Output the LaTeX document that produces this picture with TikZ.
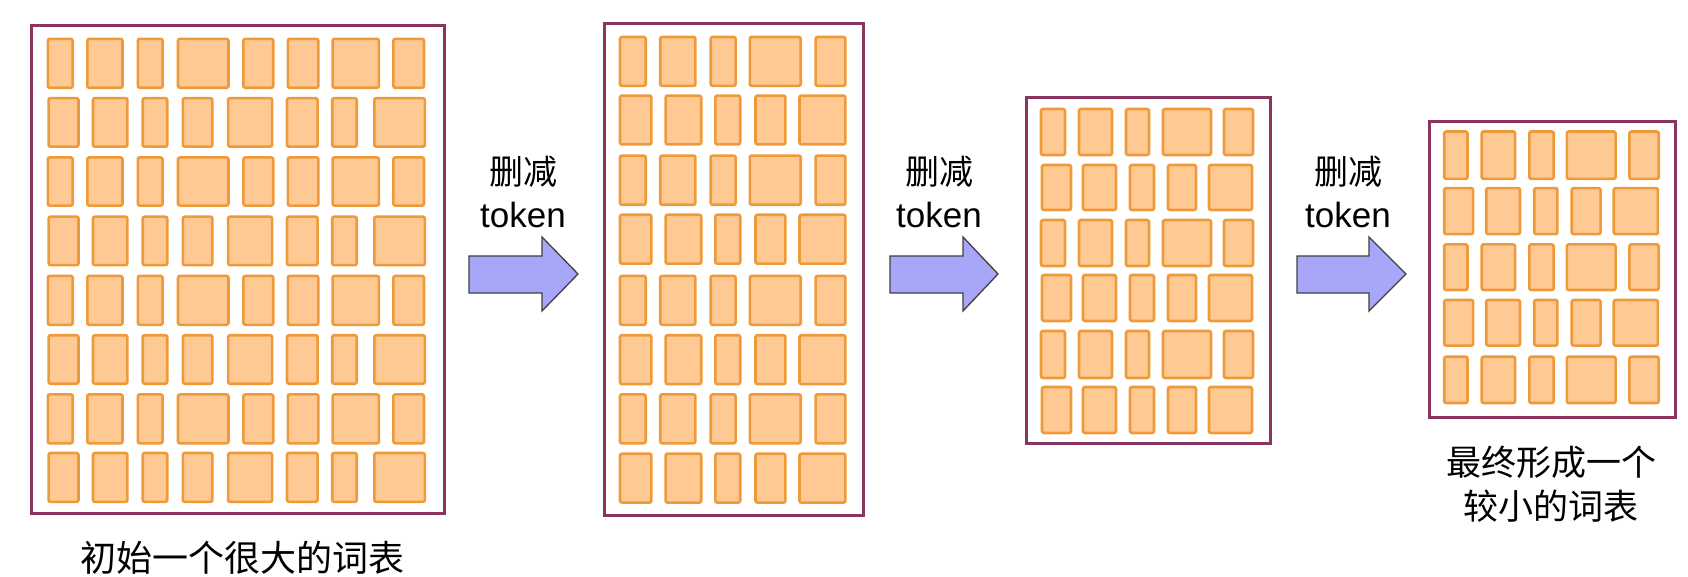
\documentclass[tikz,border=0pt]{standalone}
\usepackage{fontspec}
\setmainfont{Liberation Sans}
\newfontfamily\cjk{Noto Sans CJK SC}
\definecolor{frm}{HTML}{8A3560}
\definecolor{tokfill}{HTML}{FFC994}
\definecolor{tokdraw}{HTML}{EE9A3A}
\definecolor{arrfill}{HTML}{A8A6F8}
\begin{document}
\begin{tikzpicture}[x=1pt,y=-1pt,
  frame/.style={draw=frm,line width=3pt},
  tok/.style={fill=tokfill,draw=tokdraw,line width=2.6pt,rounded corners=2pt},
  arr/.style={fill=arrfill,draw=black!75,line width=1.3pt,line join=miter},
  lbl/.style={font=\cjk\fontsize{34}{40}\selectfont,align=center,inner sep=0pt},
  tk/.style={font=\fontsize{35}{40}\selectfont,inner sep=0pt}]
\useasboundingbox (0,0) rectangle (1688,577);
% frames
\draw[frame] (31,26) rectangle (444,513);
\draw[frame] (604,24) rectangle (863,515);
\draw[frame] (1026,98) rectangle (1270,443);
\draw[frame] (1429,122) rectangle (1675,417);
% frame 1
\foreach \ya/\yb [count=\r] in {38.9/87.8,98.1/146.7,157.4/205.6,216.7/265.2,275.9/324.8,335.2/383.7,394.4/443.3,453/501.9}{
  \ifodd\r
    \foreach \xa/\xb in {47.8/72.7,87.3/122.5,137.8/162.6,178/228.5,243.4/273.2,287.8/318.4,332.6/378.9,393.4/424}
      \draw[tok] (\xa,\ya) rectangle (\xb,\yb);
  \else
    \foreach \xa/\xb in {48.6/78.5,93/127.4,142.7/167.2,182.9/212.4,228.1/272.1,287/317.6,332.2/356.7,374.3/424.8}
      \draw[tok] (\xa,\ya) rectangle (\xb,\yb);
  \fi}
% frame 2
\foreach \ya/\yb [count=\r] in {37/85.9,95.6/144.4,155.6/204.8,214.8/263.7,275.9/324.8,335.2/384.1,394.4/443.3,453.7/502.6}{
  \ifodd\r
    \foreach \xa/\xb in {620/645.7,660.2/695.4,710.7/735.6,749.8/800.7,815.6/845.4}
      \draw[tok] (\xa,\ya) rectangle (\xb,\yb);
  \else
    \foreach \xa/\xb in {620/651.4,665.6/701.2,715.3/740.2,755.5/785.4,799.5/845.4}
      \draw[tok] (\xa,\ya) rectangle (\xb,\yb);
  \fi}
% frame 3
\foreach \ya/\yb [count=\r] in {109/155,165/210,220/266,275/321,331/378,387/433}{
  \ifodd\r
    \foreach \xa/\xb in {1041/1065,1079/1112,1126/1149,1163/1211,1224/1253}
      \draw[tok] (\xa,\ya) rectangle (\xb,\yb);
  \else
    \foreach \xa/\xb in {1042/1071,1083/1116,1130/1154,1168/1196,1209/1252}
      \draw[tok] (\xa,\ya) rectangle (\xb,\yb);
  \fi}
% frame 4
\foreach \ya/\yb [count=\r] in {131.5/178.9,188.1/234.1,244.4/290,300/345.6,356.7/403}{
  \ifodd\r
    \foreach \xa/\xb in {1444.2/1467.5,1481.7/1515.1,1529.3/1553.7,1566.8/1615.6,1629.4/1658.7}
      \draw[tok] (\xa,\ya) rectangle (\xb,\yb);
  \else
    \foreach \xa/\xb in {1444.2/1473.1,1486.2/1520,1534.2/1557.4,1571.7/1600.6,1613.7/1657.9}
      \draw[tok] (\xa,\ya) rectangle (\xb,\yb);
  \fi}
% arrows
\foreach \xa/\xh/\xe in {469/542/578,890/963/998,1297/1369/1406}
  \draw[arr] (\xa,256) -- (\xh,256) -- (\xh,237) -- (\xe,274) -- (\xh,311) -- (\xh,293) -- (\xa,293) -- cycle;
% labels
\foreach \x/\n in {523/a,939/b,1348/c}{
  \node[lbl] (cut\n) at (\x,172) {删减};
  \node[tk] (tok\n) at (\x,215) {token};}
\node[lbl,font=\cjk\fontsize{36}{42}\selectfont] (l1) at (242,558) {初始一个很大的词表};
\node[lbl,font=\cjk\fontsize{35}{44}\selectfont] (l4) at (1551,484) {最终形成一个\\较小的词表};
\end{tikzpicture}
\end{document}
